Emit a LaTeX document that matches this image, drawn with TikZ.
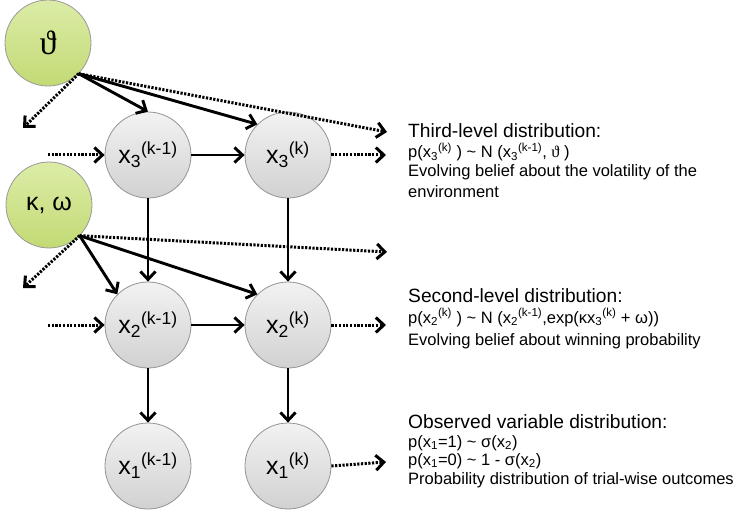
\documentclass[tikz,border=0pt]{standalone}
\usepackage{fontspec}
\setmainfont{Liberation Sans}
\newfontfamily\symfnt{Liberation Serif}
\usetikzlibrary{arrows.meta}
\newcommand\xsub[2]{x\textsubscript{#1}\textsuperscript{#2}}
\begin{document}
\begin{tikzpicture}[x=1pt,y=-1pt,
  vnode/.style={circle,minimum size=86pt,inner sep=0pt,draw=black!42,line width=0.8pt,
    top color=black!5,bottom color=black!18,font=\fontsize{25}{28}\selectfont},
  pnode/.style={circle,minimum size=86pt,inner sep=0pt,draw=black!40,line width=0.8pt,
    top color={rgb,255:red,220;green,236;blue,168},bottom color={rgb,255:red,194;green,218;blue,116},
    font=\fontsize{25}{28}\selectfont},
  solidarr/.style={line width=2.9pt,-{Straight Barb[length=8pt,width=15pt]}},
  dotarr/.style={line width=3pt,dash pattern=on 2.2pt off 1.5pt,-{Straight Barb[length=8pt,width=15pt]}},
  ttl/.style={anchor=base west,inner sep=0pt,font=\fontsize{19.2}{22}\selectfont},
  bdy/.style={anchor=base west,inner sep=0pt,font=\fontsize{16.5}{19}\selectfont}]
\useasboundingbox (0,0) rectangle (737,516);

% parameter nodes
\node[pnode] (th) at (48,43) {\fontsize{34}{36}\symfnt ϑ};
\node[pnode] (kw) at (49,205) {κ, ω};

% state nodes
\node[vnode] (x3a) at (148,155) {\xsub{3}{(k-1)}};
\node[vnode] (x3b) at (288,155) {\xsub{3}{(k)}};
\node[vnode] (x2a) at (148,325) {\xsub{2}{(k-1)}};
\node[vnode] (x2b) at (288,325) {\xsub{2}{(k)}};
\node[vnode] (x1a) at (148,466) {\xsub{1}{(k-1)}};
\node[vnode] (x1b) at (288,466) {\xsub{1}{(k)}};

% free ends
\coordinate (thR) at (387,132);
\coordinate (thL) at (23,128);
\coordinate (kwR) at (387,252);
\coordinate (kwL) at (23,288);
\coordinate (in3) at (48,155);
\coordinate (in2) at (48,325);
\coordinate (out3) at (386,155);
\coordinate (out2) at (386,325);
\coordinate (out1) at (386,462);

% theta connectors
\draw[dotarr] (th.south east) -- (thR);
\draw[dotarr] (th.south east) -- (thL);
\draw[solidarr] (th.south east) -- (x3a.north);
\draw[solidarr] (th.south east) -- (x3b.north west);

% kappa omega connectors
\draw[dotarr] (kw.south east) -- (kwR);
\draw[dotarr] (kw.south east) -- (kwL);
\draw[solidarr] (kw.south east) -- (x2a.north west);
\draw[solidarr] (kw.south east) -- (x2b.north west);

% horizontal
\draw[dotarr] (in3) -- (x3a.west);
\draw[solidarr] (x3a) -- (x3b);
\draw[dotarr] (x3b.east) -- (out3);
\draw[dotarr] (in2) -- (x2a.west);
\draw[solidarr] (x2a) -- (x2b);
\draw[dotarr] (x2b.east) -- (out2);
\draw[dotarr] (x1b.east) -- (out1);

% vertical
\draw[solidarr] (x3a) -- (x2a);
\draw[solidarr] (x3b) -- (x2b);
\draw[solidarr] (x2a) -- (x1a);
\draw[solidarr] (x2b) -- (x1b);

% text blocks
\node[ttl] (t1) at (408,138) {Third-level distribution:};
\node[bdy] (t2) at (408,158) {p(\xsub{3}{(k)} ) \textasciitilde{} N (\xsub{3}{(k-1)}, {\symfnt ϑ} )};
\node[bdy] (t3) at (408,177) {Evolving belief about the volatility of the};
\node[bdy] (t4) at (408,197) {environment};

\node[ttl] (s1) at (408,302) {Second-level distribution:};
\node[bdy] (s2) at (408,323) {p(\xsub{2}{(k)} ) \textasciitilde{} N (\xsub{2}{(k-1)},exp(κ\xsub{3}{(k)} + ω))};
\node[bdy] (s3) at (408,345) {Evolving belief about winning probability};

\node[ttl] (o1) at (408,428) {Observed variable distribution:};
\node[bdy] (o2) at (408,447) {p(x\textsubscript{1}=1) \textasciitilde{} σ(x\textsubscript{2})};
\node[bdy] (o3) at (408,465) {p(x\textsubscript{1}=0) \textasciitilde{} 1 - σ(x\textsubscript{2})};
\node[bdy] (o4) at (408,484) {Probability distribution of trial-wise outcomes};
\end{tikzpicture}
\end{document}
